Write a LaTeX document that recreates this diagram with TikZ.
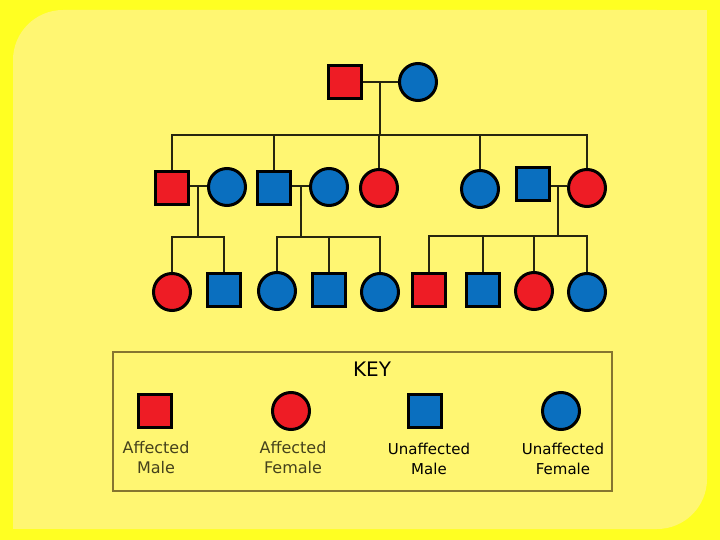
\documentclass[tikz,border=0pt]{standalone}
\usepackage{fontspec}
\setmainfont{DejaVu Sans}
\definecolor{outerbg}{HTML}{FFFF22}
\definecolor{innerbg}{HTML}{FFF672}
\definecolor{affred}{HTML}{EE1C25}
\definecolor{unblue}{HTML}{0A6FBF}
\definecolor{linec}{HTML}{26260E}
\definecolor{keyframe}{HTML}{857530}
\definecolor{afftext}{HTML}{45421C}
\tikzset{
  male/.style={draw=black,line width=3pt,rectangle,minimum size=33pt,inner sep=0pt},
  female/.style={draw=black,line width=3pt,circle,minimum size=37pt,inner sep=0pt},
  aff/.style={fill=affred},
  unaff/.style={fill=unblue},
  link/.style={draw=linec,line width=2.6pt},
  keylabel/.style={align=center,font=\fontsize{16}{20}\selectfont,inner sep=0pt}
}
\begin{document}
\begin{tikzpicture}[x=1pt,y=-1pt]
\useasboundingbox (0,0) rectangle (720,540);
% background
\fill[outerbg] (0,0) rectangle (720,540);
\fill[innerbg,rounded corners=50pt] (13,10) rectangle (707,529);
\fill[innerbg] (600,10) rectangle (707,100);
\fill[innerbg] (13,440) rectangle (100,529);

% Generation I
\node[male,aff] (m1) at (345,82) {};
\node[female,unaff] (f1) at (418,82) {};
% Generation II
\node[male,aff] (a) at (172,188) {};
\node[female,unaff] (aw) at (227,187) {};
\node[male,unaff] (b) at (274,188) {};
\node[female,unaff] (bw) at (329,187) {};
\node[female,aff] (c) at (379,188) {};
\node[female,unaff] (d) at (480,189) {};
\node[male,unaff] (dh) at (533,184) {};
\node[female,aff] (e) at (587,188) {};
% Generation III
\node[female,aff] (g1) at (172,292) {};
\node[male,unaff] (g2) at (224,290) {};
\node[female,unaff] (g3) at (277,291) {};
\node[male,unaff] (g4) at (329,290) {};
\node[female,unaff] (g5) at (380,292) {};
\node[male,aff] (g6) at (429,290) {};
\node[male,unaff] (g7) at (483,290) {};
\node[female,aff] (g8) at (534,291) {};
\node[female,unaff] (g9) at (587,292) {};

% connector coordinates
\coordinate (j0) at (380,82);
\coordinate (s0) at (380,135);
\coordinate (j1) at (198,186);
\coordinate (s1) at (198,237);
\coordinate (j2) at (301,186);
\coordinate (s2) at (301,237);
\coordinate (j3) at (558,186);
\coordinate (s3) at (558,236);

% Generation I connectors
\draw[link] (m1.east) -- (f1.west);
\draw[link] (j0) -- (s0);
\draw[link] (a.north) -- (a.north |- s0) -- (e.north |- s0) -- (e.north);
\draw[link] (b.north) -- (b.north |- s0);
\draw[link] (c.north) -- (c.north |- s0);
\draw[link] (d.north) -- (d.north |- s0);

% Generation II marriages
\draw[link] (a.east |- j1) -- (aw.west |- j1);
\draw[link] (j1) -- (s1);
\draw[link] (b.east |- j2) -- (bw.west |- j2);
\draw[link] (j2) -- (s2);
\draw[link] (dh.east |- j3) -- (e.west |- j3);
\draw[link] (j3) -- (s3);

% Generation III sibships
\draw[link] (g1.north) -- (g1.north |- s1) -- (g2.north |- s1) -- (g2.north);
\draw[link] (g3.north) -- (g3.north |- s2) -- (g5.north |- s2) -- (g5.north);
\draw[link] (g4.north) -- (g4.north |- s2);
\draw[link] (g6.north) -- (g6.north |- s3) -- (g9.north |- s3) -- (g9.north);
\draw[link] (g7.north) -- (g7.north |- s3);
\draw[link] (g8.north) -- (g8.north |- s3);

% Key
\draw[keyframe,line width=2pt] (113,352) rectangle (612,491);
\node[font=\fontsize{20}{24}\selectfont,inner sep=0pt] (keytitle) at (372,369) {KEY};
\node[male,aff] (k1) at (155,411) {};
\node[female,aff] (k2) at (291,411) {};
\node[male,unaff] (k3) at (425,411) {};
\node[female,unaff] (k4) at (561,411) {};
\node[keylabel,text=afftext] (l1) at (156,458) {Affected\\Male};
\node[keylabel,text=afftext] (l2) at (293,458) {Affected\\Female};
\node[keylabel,text=black,font=\fontsize{15}{20}\selectfont] (l3) at (429,459) {Unaffected\\Male};
\node[keylabel,text=black,font=\fontsize{15}{20}\selectfont] (l4) at (563,459) {Unaffected\\Female};
\end{tikzpicture}
\end{document}
